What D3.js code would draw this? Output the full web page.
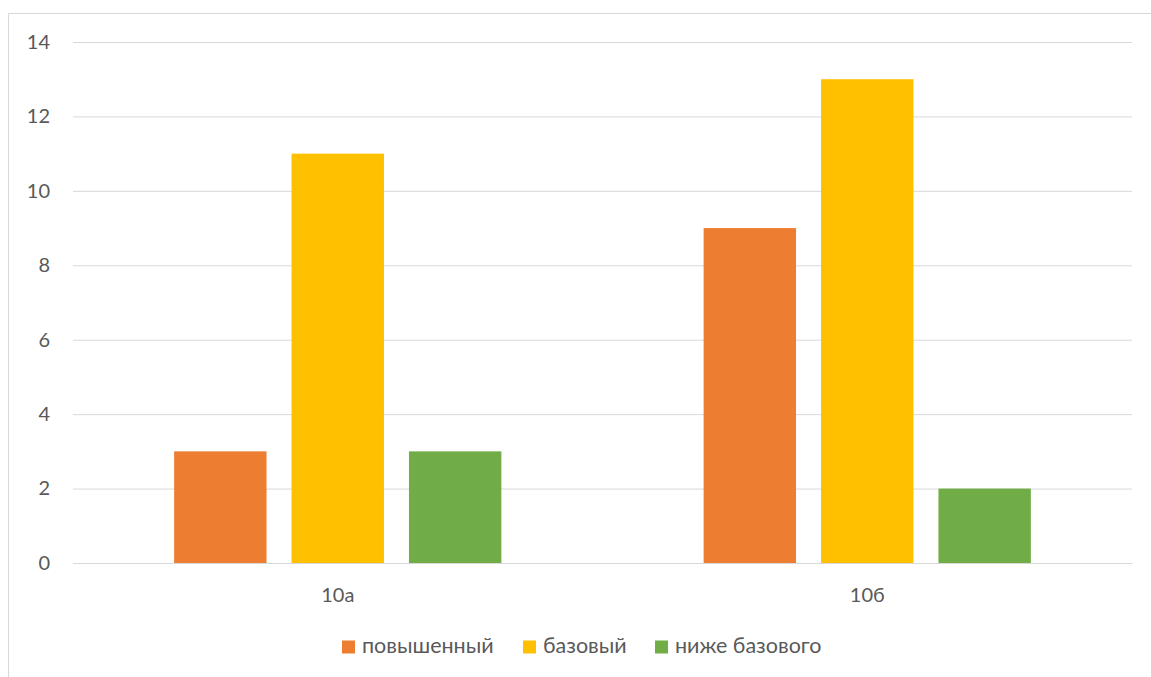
<!DOCTYPE html>
<html><head><meta charset="utf-8">
<script src="https://cdn.jsdelivr.net/npm/d3@7"></script>
<style>body{margin:0;background:#fff;} svg{display:block;font-family:Lato,"Open Sans",sans-serif;}</style>
</head><body>
<svg id="c" width="1151" height="677"></svg>
<script>
const categories = ["10а", "10б"];
const seriesNames = ["повышенный", "базовый", "ниже базового"];
const seriesColors = ["#ED7D31", "#FFC000", "#70AD47"];
const valuesPovyshenny = [3, 9];
const valuesBazovy = [11, 13];
const valuesNizhe = [3, 2];
const yTicks = [0, 2, 4, 6, 8, 10, 12, 14];

(function () {
const seriesValues = [valuesPovyshenny, valuesBazovy, valuesNizhe];
const svg = d3.select("#c");
const FONT = "Lato, 'Open Sans', sans-serif";
const FS = "20px";
svg.append("rect").attr("x", 8.5).attr("y", 13.5).attr("width", 1160).attr("height", 700)
  .attr("fill", "#fff").attr("stroke", "#d9d9d9");

const pLeft = 73, pRight = 1132, pTop = 42, pBottom = 563;
const y = d3.scaleLinear().domain([0, 14]).range([pBottom, pTop]);
const x0 = d3.scaleBand().domain(categories).range([pLeft, pRight]).paddingInner(0.382).paddingOuter(0.191);
const x1 = d3.scaleBand().domain(seriesNames).range([0, x0.bandwidth()]).paddingInner(0.213).paddingOuter(0);

const yAxis = d3.axisLeft(y).tickValues(yTicks).tickSize(-(pRight - pLeft)).tickPadding(23);
const gy = svg.append("g").attr("transform", `translate(${pLeft},0)`).call(yAxis);
gy.select(".domain").remove();
gy.selectAll(".tick line").attr("stroke", "#d9d9d9").attr("stroke-width", 1);
gy.selectAll(".tick text").attr("fill", "#595959").style("font-size", FS).style("font-family", FONT);

const groups = svg.append("g").selectAll("g").data(categories).join("g")
  .attr("transform", d => `translate(${x0(d)},0)`);
groups.selectAll("rect").data((c, ci) => seriesNames.map((s, si) => ({s, si, v: seriesValues[si][ci]})))
  .join("rect")
  .attr("x", d => x1(d.s)).attr("width", x1.bandwidth())
  .attr("y", d => y(d.v)).attr("height", d => y(0) - y(d.v))
  .attr("fill", d => seriesColors[d.si]);

const xAxis = d3.axisBottom(x0).tickSize(0).tickPadding(25);
const gx = svg.append("g").attr("transform", `translate(0,${pBottom})`).call(xAxis);
gx.select(".domain").attr("stroke", "#d9d9d9");
gx.selectAll(".tick text").attr("fill", "#595959").style("font-size", FS).style("font-family", FONT);

const legend = svg.append("g").attr("transform", "translate(0,647)");
const legendX = [342, 523, 655];
const items = legend.selectAll("g").data(seriesNames).join("g")
  .attr("transform", (d, i) => `translate(${legendX[i]},0)`);
items.append("rect").attr("x", 0).attr("y", -6.5).attr("width", 13).attr("height", 13)
  .attr("fill", (d, i) => seriesColors[i]);
items.append("text").attr("x", 20).attr("y", 6).attr("dy", "0")
  .attr("fill", "#595959").style("font-size", "21.5px").style("font-family", FONT).text(d => d);
})();
</script>
</body></html>
